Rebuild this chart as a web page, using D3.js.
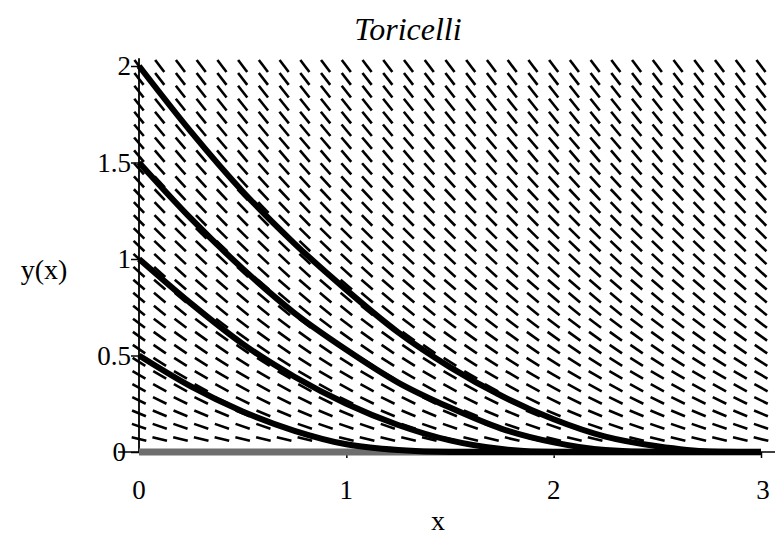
<!DOCTYPE html>
<html>
<head>
<meta charset="utf-8">
<script src="https://cdn.jsdelivr.net/npm/d3@7"></script>
<style>
  html, body { margin: 0; padding: 0; background: #fff; }
  svg { display: block; }
  text { font-family: "Liberation Serif", "DejaVu Serif", serif; fill: #000; }
</style>
</head>
<body>
<svg id="chart" width="783" height="541"></svg>
<script>
// ---------- data ----------
const title = "Toricelli";
const xLabel = "x";
const yLabel = "y(x)";
const xTicks = [0, 1, 2, 3];
const yTicks = [0, 0.5, 1, 1.5, 2];
const yTickLabels = ["0", "0.5", "1", "1.5", "2"];

// direction-field grid
const fieldX = [0, 0.1, 0.2, 0.3, 0.4, 0.5, 0.6, 0.7, 0.8, 0.9, 1.0, 1.1, 1.2, 1.3, 1.4, 1.5,
                1.6, 1.7, 1.8, 1.9, 2.0, 2.1, 2.2, 2.3, 2.4, 2.5, 2.6, 2.7, 2.8, 2.9, 3.0];
const fieldY = [0.067, 0.133, 0.2, 0.267, 0.333, 0.4, 0.467, 0.533, 0.6, 0.667, 0.733,
                0.8, 0.867, 0.933, 1.0, 1.067, 1.133, 1.2, 1.267, 1.333, 1.4, 1.467, 1.533,
                1.6, 1.667, 1.733, 1.8, 1.867, 1.933, 2.0];
// slope dy/dx of the dashes in each row (same order as fieldY)
const fieldSlope = [-0.26, -0.37, -0.45, -0.52, -0.58, -0.63, -0.68, -0.73, -0.77, -0.82, -0.86,
                    -0.89, -0.93, -0.97, -1.0, -1.03, -1.06, -1.10, -1.13, -1.15, -1.18, -1.21, -1.24,
                    -1.26, -1.29, -1.32, -1.34, -1.37, -1.39, -1.41];

// solution curves
const curveX = [0, 0.25, 0.5, 0.75, 1.0, 1.25, 1.5, 1.75, 2.0, 2.25, 2.5, 2.75, 3.0];
const curveY2   = [2.0, 1.66, 1.35, 1.08, 0.84, 0.62, 0.44, 0.29, 0.17, 0.08, 0.03, 0.003, 0];
const curveY15  = [1.5, 1.21, 0.95, 0.72, 0.53, 0.36, 0.23, 0.12, 0.05, 0.01, 0, 0, 0];
const curveY1   = [1.0, 0.77, 0.56, 0.39, 0.25, 0.14, 0.06, 0.015, 0, 0, 0, 0, 0];
const curveY05  = [0.5, 0.34, 0.21, 0.11, 0.04, 0.01, 0, 0, 0, 0, 0, 0, 0];
const curveY0   = [0, 0, 0, 0, 0, 0, 0, 0, 0, 0, 0, 0, 0];

// ---------- drawing ----------
const svg = d3.select("#chart");
const x = d3.scaleLinear().domain([0, 3]).range([139, 761]);
const y = d3.scaleLinear().domain([0, 2]).range([452, 66]);

// direction field
const dashLen = 15;
const field = svg.append("g").attr("stroke", "#000").attr("stroke-width", 2.6).attr("stroke-linecap", "butt");
fieldY.forEach((yv, j) => {
  const s = fieldSlope[j];
  fieldX.forEach(xv => {
    const cx = x(xv), cy = y(yv);
    const dxp = x(1) - x(0);
    const dyp = y(s) - y(0);
    const len = Math.hypot(dxp, dyp);
    const ux = dxp / len * dashLen / 2, uy = dyp / len * dashLen / 2;
    field.append("line")
      .attr("x1", cx - ux).attr("y1", cy - uy)
      .attr("x2", cx + ux).attr("y2", cy + uy);
  });
});

// axes
const xAxis = d3.axisBottom(x).tickValues(xTicks.slice(1)).tickSize(6).tickFormat("");
const gx = svg.append("g").attr("transform", `translate(0,${y(0)})`).call(xAxis);
gx.select(".domain").remove();
svg.append("line").attr("x1", 118).attr("x2", 775).attr("y1", y(0)).attr("y2", y(0))
  .attr("stroke", "#000").attr("stroke-width", 1.4);
gx.selectAll("line").attr("stroke", "#000").attr("stroke-width", 1.5);

const yAxis = d3.axisLeft(y).tickValues(yTicks).tickSize(8).tickFormat("");
const gy = svg.append("g").attr("transform", `translate(${x(0)},0)`).call(yAxis);
gy.select(".domain").remove();
svg.append("line").attr("x1", x(0)).attr("x2", x(0)).attr("y1", y(0)).attr("y2", y(2.04))
  .attr("stroke", "#000").attr("stroke-width", 1.8);
gy.selectAll("line").attr("stroke", "#000").attr("stroke-width", 1.5);

// tick labels
svg.append("g").selectAll("text").data(xTicks).join("text")
  .attr("x", d => x(d) + (d === 3 ? 2 : 0)).attr("y", 499)
  .attr("text-anchor", "middle").attr("font-size", 27).text(d => d);
svg.append("g").selectAll("text").data(yTicks).join("text")
  .attr("x", d => d === 0 ? 126 : 131).attr("y", d => y(d) + 9)
  .attr("text-anchor", "end").attr("font-size", 27).text((d, i) => yTickLabels[i]);

// solution curves
const line = d3.line().x(d => x(d[0])).y(d => y(d[1])).curve(d3.curveMonotoneX);
const band = curveX.map((xv, i) => [xv, curveY0[i]]);
svg.append("path").attr("d", line(band)).attr("fill", "none")
  .attr("stroke", "#6e6e6e").attr("stroke-width", 7);
[curveY2, curveY15, curveY1, curveY05].forEach(arr => {
  const pts = curveX.map((xv, i) => [xv, arr[i]]);
  svg.append("path").attr("d", line(pts)).attr("fill", "none")
    .attr("stroke", "#000").attr("stroke-width", 6).attr("stroke-linejoin", "round");
});

// labels
svg.append("text").attr("x", 408).attr("y", 40).attr("text-anchor", "middle")
  .attr("font-size", 32).attr("font-style", "italic").text(title);
svg.append("text").attr("x", 44).attr("y", 279).attr("text-anchor", "middle")
  .attr("font-size", 28).text(yLabel);
svg.append("text").attr("x", 438).attr("y", 530).attr("text-anchor", "middle")
  .attr("font-size", 28).text(xLabel);
</script>
</body>
</html>
